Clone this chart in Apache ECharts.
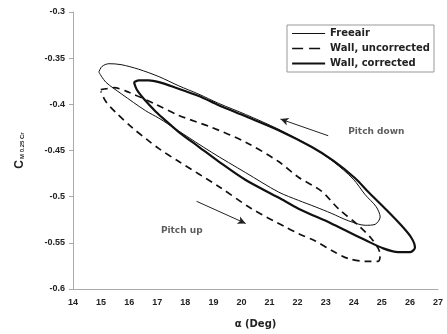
<!DOCTYPE html>
<html>
<head>
<meta charset="utf-8">
<script src="https://cdn.jsdelivr.net/npm/echarts@6/dist/echarts.min.js"></script>
<style>
  html, body { margin: 0; padding: 0; background: #fff; }
  #main { width: 447px; height: 334px; }
</style>
</head>
<body>
<div id="main"></div>
<script>
// free air loop (thin line)
var freeairAlpha = [14.92, 15.03, 15.28, 15.71, 16.34, 17.06, 17.77, 18.48, 19.19, 20.15, 21.32, 22.49, 23.27, 23.98, 24.41, 24.80, 24.94, 24.76, 24.41, 23.80, 23.20, 22.63, 22.03, 21.32, 20.15, 18.94, 17.77, 17.06, 16.59, 15.74, 15.17, 14.92];
var freeairCm = [-0.365, -0.359, -0.356, -0.357, -0.362, -0.370, -0.380, -0.389, -0.399, -0.411, -0.427, -0.446, -0.462, -0.481, -0.498, -0.511, -0.522, -0.530, -0.531, -0.526, -0.518, -0.511, -0.504, -0.495, -0.474, -0.452, -0.429, -0.415, -0.407, -0.389, -0.376, -0.365];

// wall, uncorrected (dashed)
var uncorrAlpha = [14.99, 15.21, 15.46, 15.99, 16.95, 17.77, 18.94, 20.15, 21.32, 22.03, 22.85, 23.45, 24.16, 24.62, 24.87, 24.94, 24.87, 24.41, 23.80, 23.20, 22.63, 22.03, 21.57, 20.36, 19.19, 17.77, 17.06, 16.63, 16.10, 15.53, 15.17, 14.99];
var uncorrCm = [-0.384, -0.383, -0.382, -0.387, -0.400, -0.412, -0.425, -0.441, -0.462, -0.479, -0.494, -0.513, -0.531, -0.545, -0.556, -0.563, -0.570, -0.570, -0.567, -0.558, -0.548, -0.540, -0.533, -0.513, -0.489, -0.462, -0.448, -0.438, -0.425, -0.409, -0.397, -0.386];

// wall, corrected (thick line)
var corrAlpha = [16.17, 16.34, 16.70, 17.06, 17.66, 18.48, 19.19, 20.15, 21.32, 22.49, 23.27, 24.05, 24.52, 25.12, 25.69, 26.04, 26.18, 26.01, 25.58, 25.05, 24.41, 23.80, 23.20, 22.03, 21.32, 20.15, 19.19, 18.48, 17.77, 17.24, 16.95, 16.52, 16.27, 16.17];
var corrCm = [-0.376, -0.374, -0.374, -0.376, -0.382, -0.391, -0.401, -0.413, -0.428, -0.446, -0.461, -0.480, -0.495, -0.513, -0.531, -0.544, -0.555, -0.560, -0.560, -0.556, -0.547, -0.538, -0.529, -0.513, -0.501, -0.482, -0.462, -0.446, -0.430, -0.416, -0.408, -0.394, -0.384, -0.376];

var seriesNames = ['Freeair', 'Wall, uncorrected', 'Wall, corrected'];

// annotations
var noteText = ['Pitch down', 'Pitch up'];
var noteAlpha = [23.80, 17.13];
var noteCm = [-0.430, -0.537];
var arrowFrom = [[23.09, -0.434], [18.40, -0.505]];
var arrowTo = [[21.39, -0.416], [20.15, -0.529]];

function pairs(xs, ys) {
  return xs.map(function (x, i) { return [x, ys[i]]; });
}

var tickFont = { fontFamily: 'Liberation Sans', fontWeight: 'bold', fontSize: 9, color: '#222' };
var lineStyles = [
  { color: '#111', width: 1 },
  { color: '#111', width: 1.7, type: [7, 5] },
  { color: '#111', width: 2.2 }
];

var chart = echarts.init(document.getElementById('main'));
var option = {
  animation: false,
  color: ['#111', '#111', '#111'],
  grid: { left: 73, right: 9, top: 12, bottom: 44 },
  legend: {
    orient: 'vertical',
    left: 287,
    top: 25,
    padding: [3, 4, 3, 4],
    itemWidth: 33,
    itemHeight: 10,
    itemGap: 4,
    borderColor: '#999',
    borderWidth: 1,
    itemStyle: { opacity: 0 },
    data: seriesNames.map(function (n, i) {
      return { name: n, lineStyle: i === 1 ? { width: 1.7, type: [11, 6] } : { width: lineStyles[i].width } };
    }),
    textStyle: { fontFamily: 'DejaVu Sans', fontWeight: 'bold', fontSize: 10, lineHeight: 11, color: '#222' }
  },
  xAxis: {
    type: 'value',
    min: 14, max: 27, interval: 1,
    name: 'α (Deg)',
    nameLocation: 'middle',
    nameGap: 30,
    nameTextStyle: { fontFamily: 'DejaVu Sans', fontWeight: 'bold', fontSize: 10, color: '#222' },
    axisLine: { lineStyle: { color: '#aaa', width: 1 } },
    axisTick: { show: false },
    axisLabel: Object.assign({ margin: 9 }, tickFont),
    splitLine: { show: false }
  },
  yAxis: {
    type: 'value',
    min: -0.6, max: -0.3, interval: 0.05,
    name: '{c|C}{s|M 0.25 Cr}',
    nameLocation: 'middle',
    nameRotate: 90,
    nameGap: 47,
    nameTextStyle: {
      rich: {
        c: { fontFamily: 'Liberation Sans', fontWeight: 'bold', fontSize: 12, color: '#222' },
        s: { fontFamily: 'Liberation Sans', fontWeight: 'bold', fontSize: 6, color: '#222', padding: [5, 0, 0, 1] }
      }
    },
    axisLine: { show: true, lineStyle: { color: '#aaa', width: 1 } },
    axisTick: { show: true, length: 4, lineStyle: { color: '#aaa' } },
    axisLabel: Object.assign({ margin: 8 }, tickFont),
    splitLine: { show: false }
  },
  series: [
    {
      name: seriesNames[0],
      type: 'line',
      data: pairs(freeairAlpha, freeairCm),
      smooth: 0.3,
      symbol: 'none',
      lineStyle: lineStyles[0]
    },
    {
      name: seriesNames[1],
      type: 'line',
      data: pairs(uncorrAlpha, uncorrCm),
      smooth: 0.3,
      symbol: 'none',
      lineStyle: lineStyles[1]
    },
    {
      name: seriesNames[2],
      type: 'line',
      data: pairs(corrAlpha, corrCm),
      smooth: 0.3,
      symbol: 'none',
      lineStyle: lineStyles[2]
    },
    {
      name: 'notes',
      type: 'scatter',
      symbolSize: 0,
      silent: true,
      data: noteText.map(function (t, i) { return { value: [noteAlpha[i], noteCm[i]], name: t }; }),
      label: {
        show: true,
        position: 'right',
        distance: 0,
        formatter: '{b}',
        fontFamily: 'DejaVu Sans',
        fontWeight: 'bold',
        fontSize: 9,
        color: '#333'
      },
      markLine: {
        silent: true,
        symbol: ['none', 'arrow'],
        symbolSize: [6, 8],
        label: { show: false },
        lineStyle: { color: '#222', width: 1, type: 'solid' },
        data: arrowFrom.map(function (p, i) { return [{ coord: p }, { coord: arrowTo[i] }]; })
      }
    }
  ]
};
chart.setOption(option);
</script>
</body>
</html>
